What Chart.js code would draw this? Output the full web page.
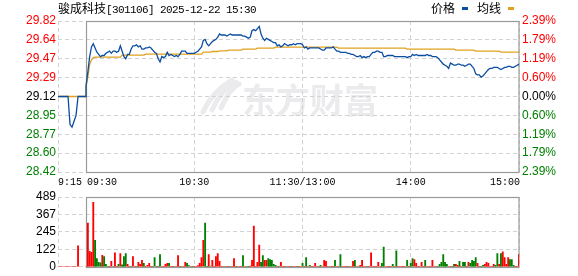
<!DOCTYPE html>
<html>
<head>
<meta charset="utf-8">
<script src="https://cdn.jsdelivr.net/npm/chart.js@4.4.1/dist/chart.umd.min.js"></script>
<style>
  body { margin: 0; background: #fff; }
  #wrap { position: relative; width: 578px; height: 276px; overflow: hidden; }
  canvas { position: absolute; left: 0; }
  #priceChart { top: 0; }
  #volChart { top: 185px; }
  .txt { position: absolute; top: 1px; font: 12px "Noto Sans CJK SC"; line-height: 14px; color: #000; white-space: nowrap; }
  .mono { font: 11px "Liberation Mono"; letter-spacing: -0.6px; }
  .mark { position: absolute; top: 7px; width: 6px; height: 3px; }
</style>
</head>
<body>
<div id="wrap">
  <canvas id="priceChart" width="578" height="185"></canvas>
  <canvas id="volChart" width="578" height="91"></canvas>
  <div class="txt" style="left:58px">骏成科技<span class="mono">[301106] 2025-12-22 15:30</span></div>
  <div class="txt" style="left:431px">价格</div>
  <div class="mark" style="left:462px;background:#0b4da2"></div>
  <div class="txt" style="left:477px">均线</div>
  <div class="mark" style="left:508px;background:#dfa21f"></div>
</div>
<script>
// axis labels
const prevClose = 29.12;
const priceTicks = ['28.42', '28.60', '28.77', '28.95', '29.12', '29.29', '29.47', '29.64', '29.82'];
const pctTicks = ['2.39%', '1.79%', '1.19%', '0.60%', '0.00%', '0.60%', '1.19%', '1.79%', '2.39%'];
const volTicks = [0, 122, 245, 367, 489];
const timeLabels = ['9:15', '09:30', '10:30', '11:30/13:00', '14:00', '15:00'];

// call auction 9:15 - 9:25, one value per minute
const auctionPrice = [29.12, 29.12, 29.12, 29.12, 29.12, 29.12, 28.86, 28.835, 28.89, 28.945, 29.12];
const auctionAvg = [29.12, 29.12, 29.12, 29.12, 29.12, 29.12, 29.12, 29.12, 29.12, 29.12, 29.12];
const auctionVolume = [0, 0, 0, 0, 0, 0, 0, 0, 0, 0, 147];

// trading minutes 9:30 - 15:00 (241 points)
const price = [
  29.22, 29.35, 29.49, 29.58, 29.61, 29.57, 29.53, 29.51, 29.49, 29.50,
  29.50, 29.52, 29.53, 29.54, 29.52, 29.54, 29.54, 29.53, 29.54, 29.59,
  29.54, 29.49, 29.47, 29.51, 29.51, 29.56, 29.59, 29.59, 29.60, 29.58,
  29.59, 29.56, 29.56, 29.57, 29.57, 29.58, 29.57, 29.55, 29.53, 29.52,
  29.47, 29.44, 29.49, 29.48, 29.49, 29.53, 29.50, 29.51, 29.50, 29.49,
  29.50, 29.49, 29.51, 29.54, 29.54, 29.54, 29.52, 29.52, 29.52, 29.52,
  29.52, 29.53, 29.54, 29.56, 29.58, 29.64, 29.65, 29.61, 29.59, 29.61,
  29.63, 29.64, 29.65, 29.67, 29.70, 29.69, 29.69, 29.69, 29.68, 29.69,
  29.70, 29.69, 29.69, 29.69, 29.69, 29.69, 29.69, 29.68, 29.68, 29.67,
  29.66, 29.67, 29.73, 29.74, 29.73, 29.75, 29.77, 29.70, 29.66, 29.64,
  29.66, 29.65, 29.64, 29.63, 29.62, 29.62, 29.59, 29.60, 29.58, 29.59,
  29.61, 29.60, 29.59, 29.60, 29.60, 29.61, 29.60, 29.61, 29.61, 29.61,
  29.60, 29.57, 29.58, 29.56, 29.57, 29.57, 29.57, 29.57, 29.57, 29.57,
  29.56, 29.55, 29.55, 29.57, 29.57, 29.57, 29.57, 29.58, 29.56, 29.54,
  29.54, 29.53, 29.53, 29.53, 29.53, 29.52, 29.52, 29.51, 29.51, 29.50,
  29.49, 29.49, 29.50, 29.48, 29.49, 29.48, 29.49, 29.49, 29.51, 29.53,
  29.53, 29.54, 29.54, 29.53, 29.53, 29.49, 29.49, 29.50, 29.50, 29.50,
  29.50, 29.49, 29.49, 29.49, 29.49, 29.49, 29.49, 29.49, 29.48, 29.49,
  29.49, 29.51, 29.50, 29.51, 29.50, 29.50, 29.50, 29.50, 29.50, 29.51,
  29.50, 29.50, 29.49, 29.49, 29.49, 29.48, 29.46, 29.44, 29.42, 29.41,
  29.40, 29.38, 29.43, 29.42, 29.41, 29.41, 29.42, 29.42, 29.41, 29.41,
  29.40, 29.41, 29.42, 29.42, 29.40, 29.38, 29.33, 29.32, 29.32, 29.30,
  29.31, 29.33, 29.35, 29.37, 29.38, 29.38, 29.39, 29.39, 29.39, 29.38,
  29.37, 29.38, 29.39, 29.39, 29.40, 29.40, 29.39, 29.39, 29.40, 29.41,
  29.42
];
const avgPrice = [
  29.215, 29.30, 29.42, 29.46, 29.48, 29.485, 29.485, 29.485, 29.485, 29.485,
  29.485, 29.485, 29.485, 29.485, 29.485, 29.485, 29.485, 29.485, 29.485, 29.485,
  29.504, 29.504, 29.504, 29.504, 29.504, 29.504, 29.504, 29.504, 29.504, 29.504,
  29.504, 29.504, 29.504, 29.513, 29.513, 29.513, 29.513, 29.513, 29.513, 29.513,
  29.513, 29.513, 29.513, 29.513, 29.513, 29.513, 29.513, 29.513, 29.513, 29.513,
  29.513, 29.513, 29.513, 29.513, 29.513, 29.513, 29.513, 29.513, 29.513, 29.513,
  29.513, 29.513, 29.513, 29.513, 29.513, 29.531, 29.531, 29.531, 29.531, 29.531,
  29.537, 29.537, 29.537, 29.537, 29.543, 29.543, 29.543, 29.543, 29.543, 29.55,
  29.55, 29.55, 29.55, 29.55, 29.55, 29.55, 29.55, 29.559, 29.559, 29.559,
  29.559, 29.559, 29.559, 29.559, 29.559, 29.568, 29.568, 29.568, 29.568, 29.568,
  29.568, 29.568, 29.568, 29.568, 29.568, 29.577, 29.577, 29.577, 29.577, 29.577,
  29.577, 29.577, 29.577, 29.577, 29.577, 29.577, 29.577, 29.577, 29.577, 29.577,
  29.577, 29.577, 29.577, 29.577, 29.577, 29.577, 29.577, 29.577, 29.577, 29.577,
  29.577, 29.577, 29.577, 29.577, 29.577, 29.577, 29.577, 29.577, 29.577, 29.577,
  29.568, 29.568, 29.568, 29.568, 29.568, 29.568, 29.568, 29.568, 29.568, 29.568,
  29.568, 29.568, 29.568, 29.568, 29.568, 29.568, 29.568, 29.568, 29.568, 29.568,
  29.568, 29.568, 29.568, 29.568, 29.568, 29.568, 29.568, 29.568, 29.568, 29.568,
  29.568, 29.568, 29.568, 29.568, 29.568, 29.568, 29.568, 29.568, 29.559, 29.559,
  29.559, 29.559, 29.559, 29.559, 29.559, 29.559, 29.559, 29.559, 29.559, 29.559,
  29.559, 29.559, 29.559, 29.559, 29.559, 29.559, 29.559, 29.559, 29.559, 29.559,
  29.559, 29.559, 29.559, 29.559, 29.559, 29.55, 29.55, 29.55, 29.55, 29.55,
  29.55, 29.55, 29.55, 29.55, 29.55, 29.55, 29.54, 29.54, 29.54, 29.54,
  29.54, 29.54, 29.54, 29.54, 29.54, 29.54, 29.54, 29.54, 29.54, 29.54,
  29.531, 29.531, 29.531, 29.531, 29.531, 29.531, 29.531, 29.531, 29.531, 29.531,
  29.531
];
// volume in lots, sign = direction of the minute (+ up / red, - down / green)
const volume = [
  0, 306, 109, 102, 451, -185, -58, -31, -27, 80,
  -71, -18, -4, 3, 38, -3, 98, 2, -18, 92,
  -13, -71, -92, 18, 3, -2, 71, 3, -2, 31,
  18, 45, -25, 3, 11, 25, 4, -3, -65, 3,
  -4, -85, 4, 3, 18, 25, -25, 3, 4, -3,
  2, 78, 3, -2, 3, 31, -25, -8, 3, -2,
  4, 3, 8, 25, 65, 185, -306, -4, 85, -5,
  45, 3, 71, 92, 38, 4, 3, -2, 4, 3,
  -3, 4, 58, 3, -3, 4, 2, -78, 3, -4,
  -2, 5, 45, 286, 4, 31, 152, -31, -78, 45,
  45, -58, -51, -45, -18, -11, 3, -3, 31, 4,
  3, -4, 3, 3, -3, 2, 3, -2, 3, 2,
  -25, 3, -65, 3, -11, 2, 3, 25, 3, -2,
  -11, 3, 45, 38, 3, -2, 3, 2, -45, 3,
  -4, -85, 3, 2, 3, -3, 2, 3, 38, -45,
  3, -2, 11, 45, 3, 2, -3, 3, 98, 3,
  2, 4, 31, 3, -25, -138, 3, 2, 4, 3,
  -18, 3, -112, 3, 2, 3, 2, 3, -45, 3,
  -25, -58, 51, 25, 3, 2, 31, 3, -45, 3,
  2, 3, 45, 3, 2, -3, -18, -31, -85, -31,
  -18, 3, 4, -3, -18, 18, 11, -38, 3, -31,
  -31, 3, 31, -25, -45, -38, -65, 25, 3, -4,
  -11, 18, 31, 25, 3, 2, 18, -11, -92, 18,
  -92, 105, 65, 18, 65, -51, -51, -11, 3, 2,
  85
];

// x axis unit = one trading minute; the auction strip sits left of 9:30
const AUCTION_START = -28 / 1.8;
const AUCTION_STEP = 2 / 1.8;
const auctionX = k => AUCTION_START + k * AUCTION_STEP;
const timeMinutes = [AUCTION_START, 0, 60, 120, 180, 240];
const timeAlign = ['left', 'left', 'center', 'center', 'center', 'right'];
const timeShift = [0, 1, 0, 0, 0, 1];

const RED = '#ff0000';
const GREEN = '#008000';
const GRID = '#d2d2d2';
const DASH = [4, 3];
const numFont = { family: 'Liberation Sans', size: 12 };

const pricePts = auctionPrice.map((p, k) => ({ x: auctionX(k), y: p }))
  .concat([{ x: 0, y: auctionPrice[auctionPrice.length - 1] }])
  .concat(price.map((p, m) => ({ x: m, y: p })));
const avgPts = auctionAvg.map((p, k) => ({ x: auctionX(k), y: p }))
  .concat([{ x: 0, y: auctionAvg[auctionAvg.length - 1] }])
  .concat(avgPrice.map((p, m) => ({ x: m, y: p })));
const volPts = auctionVolume.map((v, k) => ({ x: auctionX(k), y: v }))
  .concat(volume.map((v, m) => ({ x: m, y: Math.abs(v) })));
const volColors = auctionVolume.map(() => RED)
  .concat(volume.map(v => v < 0 ? GREEN : RED));

function sideColor(i, n) {
  const mid = (n - 1) / 2;
  if (i > mid) return RED;
  if (i < mid) return GREEN;
  return '#000';
}

function evenTicks(labels) {
  return s => {
    s.ticks = labels.map((t, i) => ({ value: s.min + i * (s.max - s.min) / (labels.length - 1) }));
  };
}

// solid frame of the trading session, the auction strip keeps dashed lines
const frame = {
  id: 'frame',
  beforeDatasetsDraw(chart) {
    const { ctx, chartArea: a, scales: { x } } = chart;
    const left = Math.round(x.getPixelForValue(0)) + 0.5;
    const top = Math.round(a.top) + 0.5;
    ctx.save();
    ctx.strokeStyle = '#999';
    ctx.lineWidth = 1.2;
    ctx.strokeRect(left, top, Math.round(a.right) - left, Math.round(a.bottom) - Math.round(a.top));
    ctx.restore();
  }
};

const watermark = {
  id: 'watermark',
  beforeDraw(chart) {
    const ctx = chart.ctx;
    ctx.save();
    ctx.fillStyle = '#ebebee';
    ctx.strokeStyle = '#ebebee';
    ctx.font = 'bold 34px "Noto Sans CJK SC"';
    ctx.textBaseline = 'alphabetic';
    ctx.fillText('东方财富', 242, 113);
    ctx.lineWidth = 5;
    ctx.lineCap = 'round';
    [[0, 0], [9, 2], [18, 4]].forEach(([dx, dy]) => {
      ctx.beginPath();
      ctx.moveTo(203 + dx, 112 - dy);
      ctx.quadraticCurveTo(212 + dx, 92 - dy, 232 + dx * 0.4, 80 + dy);
      ctx.stroke();
    });
    ctx.restore();
  }
};

const timeAxis = {
  id: 'timeAxis',
  afterDraw(chart) {
    const { ctx, chartArea: a, scales: { x } } = chart;
    ctx.save();
    ctx.font = '10px "Liberation Mono"';
    ctx.fillStyle = '#000';
    ctx.textBaseline = 'middle';
    timeLabels.forEach((t, i) => {
      ctx.textAlign = timeAlign[i];
      ctx.fillText(t, x.getPixelForValue(timeMinutes[i]) + timeShift[i], a.bottom + 10);
    });
    ctx.restore();
  }
};

const xAxis = (h) => ({
  type: 'linear',
  min: AUCTION_START,
  max: 240,
  offset: false,
  afterBuildTicks: s => { s.ticks = timeMinutes.map(v => ({ value: v })); },
  afterFit: s => { s.height = h; },
  ticks: { display: false },
  grid: { color: GRID, drawTicks: false, offset: false },
  border: { display: false, dash: DASH }
});

new Chart(document.getElementById('priceChart'), {
  type: 'line',
  data: {
    datasets: [
      { data: pricePts, borderColor: '#0b4da2', borderWidth: 1.3 },
      { data: avgPts, borderColor: '#dfa21f', borderWidth: 1.3 }
    ]
  },
  options: {
    responsive: false,
    animation: false,
    layout: { padding: { top: 21 } },
    elements: { point: { radius: 0 }, line: { tension: 0 } },
    plugins: { legend: { display: false }, tooltip: { enabled: false } },
    scales: {
      x: xAxis(13),
      y: {
        position: 'left',
        min: 28.42,
        max: 29.82,
        afterBuildTicks: evenTicks(priceTicks),
        afterFit: s => { s.width = 58; },
        ticks: {
          autoSkip: false,
          padding: 2,
          font: numFont,
          callback: (v, i) => priceTicks[i],
          color: c => sideColor(c.index, priceTicks.length)
        },
        grid: { color: GRID, drawTicks: false },
        border: { display: false, dash: DASH }
      },
      y2: {
        axis: 'y',
        position: 'right',
        min: 28.42,
        max: 29.82,
        afterBuildTicks: evenTicks(pctTicks),
        afterFit: s => { s.width = 59; },
        ticks: {
          autoSkip: false,
          padding: 3,
          font: numFont,
          callback: (v, i) => pctTicks[i],
          color: c => sideColor(c.index, pctTicks.length)
        },
        grid: { display: false, drawTicks: false },
        border: { display: false }
      }
    }
  },
  plugins: [watermark, frame, timeAxis]
});

new Chart(document.getElementById('volChart'), {
  type: 'bar',
  data: {
    datasets: [{ data: volPts, backgroundColor: volColors, barThickness: 1.2 }]
  },
  options: {
    responsive: false,
    animation: false,
    layout: { padding: { top: 12, right: 59 } },
    plugins: { legend: { display: false }, tooltip: { enabled: false } },
    scales: {
      x: xAxis(6.5),
      y: {
        min: 0,
        max: 489,
        afterBuildTicks: s => { s.ticks = volTicks.map(v => ({ value: v })); },
        afterFit: s => { s.width = 58; },
        ticks: { autoSkip: false, padding: 2, font: numFont, color: '#000' },
        grid: { color: GRID, drawTicks: false },
        border: { display: false, dash: DASH }
      }
    }
  },
  plugins: [frame]
});
</script>
</body>
</html>
